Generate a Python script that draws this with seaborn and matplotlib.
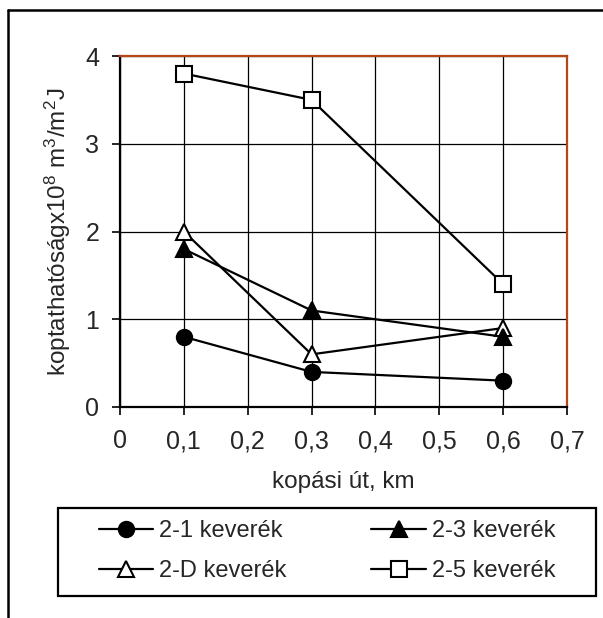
import pandas as pd
import matplotlib.pyplot as plt
import seaborn as sns
from matplotlib.lines import Line2D
from matplotlib.patches import Rectangle
from matplotlib.ticker import FuncFormatter, MultipleLocator

# --------------------------
# Adatok
# --------------------------
distance_km = [0.1, 0.3, 0.6]
wear_2_1 = [0.8, 0.4, 0.3]
wear_2_3 = [1.8, 1.1, 0.8]
wear_2_D = [2.0, 0.6, 0.9]
wear_2_5 = [3.8, 3.5, 1.4]
series_names = ["2-1 keverék", "2-D keverék", "2-3 keverék", "2-5 keverék"]
x_ticks = [0, 0.1, 0.2, 0.3, 0.4, 0.5, 0.6, 0.7]
y_ticks = [0, 1, 2, 3, 4]

df = pd.DataFrame({
    "ut": distance_km * 4,
    "kopas": wear_2_1 + wear_2_D + wear_2_3 + wear_2_5,
    "keverek": [n for n in series_names for _ in distance_km],
})

sns.set_style("white")
plt.rcParams["font.family"] = ["Liberation Sans", "DejaVu Sans"]
plt.rcParams["mathtext.fontset"] = "custom"
plt.rcParams["mathtext.rm"] = "Liberation Sans"
plt.rcParams["mathtext.it"] = "Liberation Sans"

fig = plt.figure(figsize=(6.03, 6.18), dpi=100)
ax = fig.add_axes([120 / 603, 1 - 407 / 618, 447 / 603, 351 / 618])

styles = {
    "2-1 keverék": dict(marker="o", mfc="black", ms=11),
    "2-D keverék": dict(marker="^", mfc="white", ms=11),
    "2-3 keverék": dict(marker="^", mfc="black", ms=11),
    "2-5 keverék": dict(marker="s", mfc="white", ms=11),
}

handles = []
for name in series_names:
    st = styles[name]
    sub = df[df["keverek"] == name]
    sns.lineplot(data=sub, x="ut", y="kopas", ax=ax, color="black", lw=1.6,
                 marker=st["marker"], markersize=st["ms"],
                 markerfacecolor=st["mfc"], markeredgecolor="black",
                 markeredgewidth=1.5, legend=False, zorder=3)
    handles.append(Line2D([], [], color="black", lw=1.6, marker=st["marker"],
                          markersize=st["ms"], markerfacecolor=st["mfc"],
                          markeredgecolor="black", markeredgewidth=1.5,
                          label=name))

ax.set_xlim(0, 0.7)
ax.set_ylim(0, 4)
ax.set_xticks(x_ticks)
ax.set_yticks(y_ticks)
ax.xaxis.set_major_formatter(FuncFormatter(lambda v, p: f"{v:.1f}".replace(".", ",").replace("0,0", "0")))
ax.yaxis.set_major_formatter(FuncFormatter(lambda v, p: f"{v:.0f}"))
ax.grid(True, color="black", lw=0.9)
ax.set_axisbelow(True)

for s in ["left", "bottom"]:
    ax.spines[s].set_color("black")
    ax.spines[s].set_linewidth(1.6)
for s in ["top", "right"]:
    ax.spines[s].set_color("#B5461A")
    ax.spines[s].set_linewidth(1.6)

ax.tick_params(axis="both", direction="out", length=6, width=1.2,
               color="black", labelsize=18, bottom=True, left=True)
ax.tick_params(axis="x", pad=10)
ax.tick_params(axis="y", pad=9)

ax.set_xlabel("kopási út, km", fontsize=17.5)
ax.xaxis.label.set_va("center")
ax.xaxis.set_label_coords(0.5, -(482 - 407) / 351)
ax.set_ylabel("koptathatóságx10$^{8}$ m$^{3}$/m$^{2}$J", fontsize=17.5)
ax.yaxis.label.set_va("center")
ax.yaxis.set_label_coords(-(120 - 58) / 447, 0.5)

# legend frame
fig.patches.append(Rectangle((58 / 603, 1 - 596 / 618), 538 / 603, 88 / 618,
                             transform=fig.transFigure, fill=False,
                             edgecolor="black", lw=1.6))
fig.legend(handles=handles, ncol=2, loc="center", frameon=False,
           bbox_to_anchor=(327 / 603, 1 - 551 / 618), fontsize=17,
           handlelength=2.3, handletextpad=0.25, columnspacing=3.6,
           labelspacing=0.75)

# outer frame (top and left)
fig.add_artist(Line2D([8 / 603, 8 / 603], [0, 1 - 10 / 618], color="black",
                      lw=1.8, transform=fig.transFigure))
fig.add_artist(Line2D([8 / 603, 1], [1 - 10 / 618, 1 - 10 / 618], color="black",
                      lw=1.8, transform=fig.transFigure))

fig.savefig("out.png", dpi=100)
